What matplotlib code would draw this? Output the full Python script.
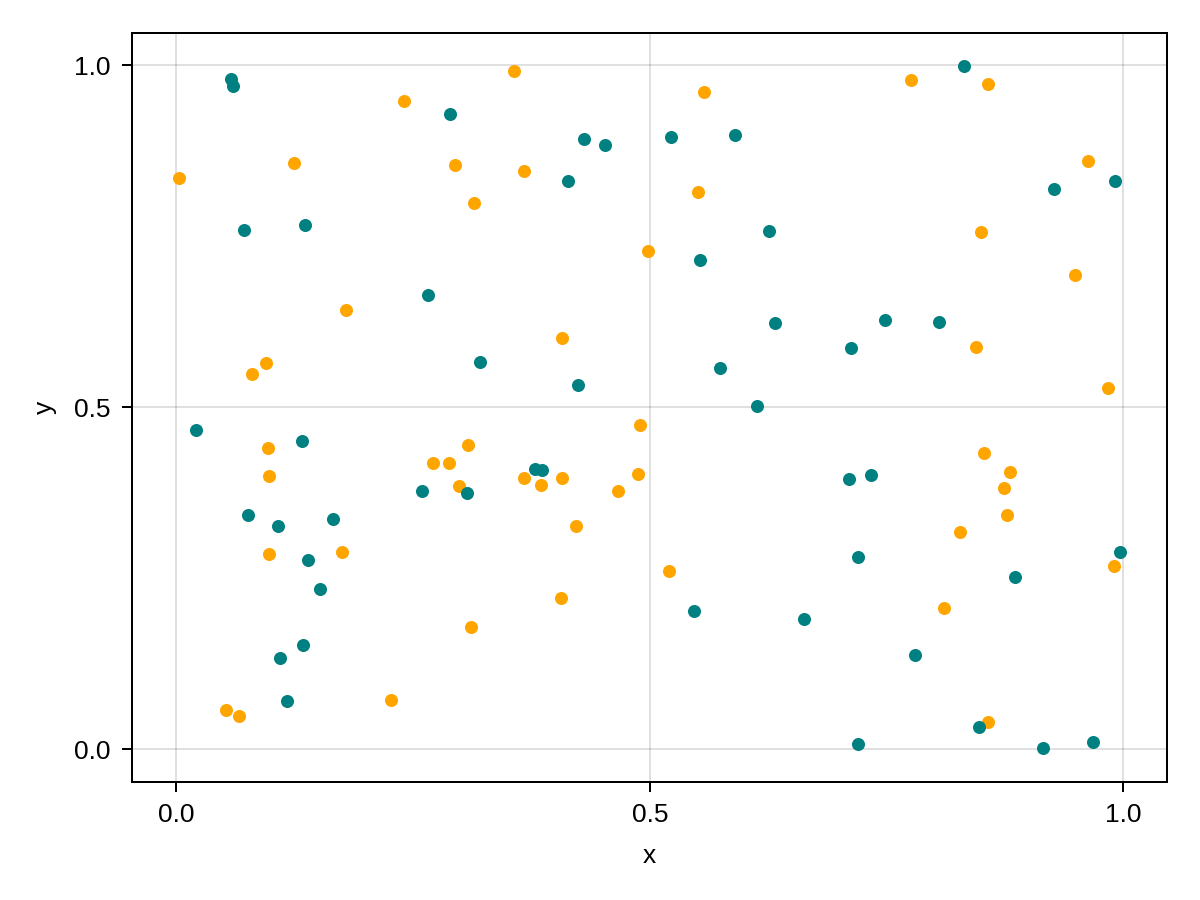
import matplotlib
matplotlib.use("Agg")
import matplotlib.pyplot as plt
from matplotlib.ticker import FormatStrFormatter

teal_x = [0.0578, 0.0599, 0.0718, 0.1359, 0.2893, 0.4308, 0.4527, 0.4136, 0.5224, 0.5900,
          0.8318, 0.9268, 0.9912, 0.5533, 0.6259, 0.2655, 0.6319, 0.7487, 0.8057, 0.7125,
          0.3207, 0.5744, 0.4245, 0.6135, 0.0208, 0.1324, 0.2591, 0.3070, 0.3788, 0.3865,
          0.7103, 0.7336, 0.0754, 0.1074, 0.1652, 0.1388, 0.1517, 0.7202, 0.9968, 0.8856,
          0.5470, 0.6628, 0.1341, 0.1092, 0.7804, 0.1172, 0.7202, 0.8473, 0.9149, 0.9683]
teal_y = [0.9795, 0.9689, 0.7592, 0.7656, 0.9288, 0.8923, 0.8835, 0.8300, 0.8952, 0.8981,
          0.9990, 0.8192, 0.8304, 0.7154, 0.7569, 0.6637, 0.6224, 0.6272, 0.6247, 0.5858,
          0.5662, 0.5575, 0.5317, 0.5019, 0.4659, 0.4503, 0.3776, 0.3743, 0.4098, 0.4079,
          0.3943, 0.4001, 0.3425, 0.3260, 0.3358, 0.2759, 0.2344, 0.2811, 0.2876, 0.2510,
          0.2013, 0.1901, 0.1520, 0.1326, 0.1379, 0.0702, 0.0069, 0.0326, 0.0019, 0.0102]

orange_x = [0.0025, 0.2408, 0.3566, 0.5569, 0.7755, 0.8574, 0.1243, 0.2943, 0.3672, 0.5512,
            0.3140, 0.9627, 0.8494, 0.4984, 0.9490, 0.1789, 0.4073, 0.8441, 0.0947, 0.0799,
            0.9835, 0.4897, 0.0971, 0.3077, 0.8529, 0.2711, 0.2883, 0.0979, 0.3675, 0.4076,
            0.4879, 0.8807, 0.2988, 0.3848, 0.4664, 0.8737, 0.8772, 0.4224, 0.8279, 0.0982,
            0.1750, 0.5206, 0.9899, 0.4059, 0.8110, 0.3115, 0.0525, 0.0659, 0.2264, 0.8571]
orange_y = [0.8352, 0.9469, 0.9912, 0.9605, 0.9776, 0.9718, 0.8572, 0.8542, 0.8446, 0.8139,
            0.7978, 0.8592, 0.7563, 0.7276, 0.6934, 0.6423, 0.6004, 0.5877, 0.5643, 0.5478,
            0.5273, 0.4737, 0.4401, 0.4449, 0.4327, 0.4181, 0.4181, 0.3987, 0.3958, 0.3966,
            0.4025, 0.4054, 0.3845, 0.3864, 0.3776, 0.3820, 0.3421, 0.3260, 0.3173, 0.2851,
            0.2880, 0.2598, 0.2675, 0.2203, 0.2066, 0.1788, 0.0570, 0.0482, 0.0721, 0.0399]

ticks = [0.0, 0.5, 1.0]

plt.rcParams['font.family'] = ['Liberation Sans', 'DejaVu Sans']

fig = plt.figure(figsize=(12, 9), dpi=100)
ax = fig.add_axes([132/1200, 1 - 781.5/900, (1167-132)/1200, (781.5-33)/900])

ax.scatter(orange_x, orange_y, s=88, color='#FFA500', linewidths=0, zorder=3)
ax.scatter(teal_x, teal_y, s=88, color='#008080', linewidths=0, zorder=3)

ax.set_xlim(-0.0468, 1.0461)
ax.set_ylim(-0.0475, 1.0468)
ax.set_xticks(ticks)
ax.set_yticks(ticks)
ax.xaxis.set_major_formatter(FormatStrFormatter('%.1f'))
ax.yaxis.set_major_formatter(FormatStrFormatter('%.1f'))
ax.grid(True, color='black', alpha=0.12, linewidth=1.44, zorder=0)
ax.set_axisbelow(True)
for sp in ax.spines.values():
    sp.set_linewidth(1.44)
ax.tick_params(direction='out', length=7.2, width=1.44, labelsize=19)
ax.tick_params(axis='x', pad=8.5)
ax.tick_params(axis='y', pad=8.5)
ax.set_xlabel('x', fontsize=19, labelpad=12)
ax.set_ylabel('y', fontsize=19, labelpad=12)

fig.savefig('out.png', dpi=100)
